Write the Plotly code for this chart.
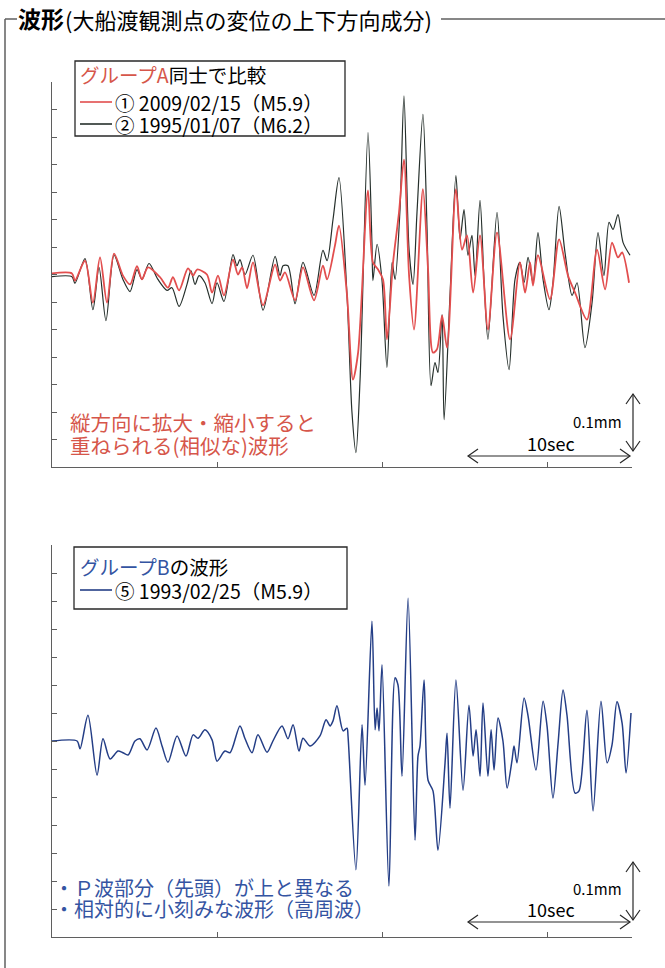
import plotly.graph_objects as go

W, H = 665, 968

# ---------------- data (time in seconds, vertical displacement in mm) ----------------
# Group A, (1) 2009/02/15 (M5.9) - red
t_eq1 = [0, 1.21, 1.39, 2.0, 2.48, 2.91, 3.33, 3.76, 4.30, 4.73, 5.15, 5.45, 5.82, 6.55, 7.03, 7.33,
         7.70, 8.24, 8.55, 8.79, 9.39, 9.70, 10.06, 10.42, 10.97, 11.27, 11.52, 11.82, 12.18, 12.79,
         13.52, 13.82, 14.12, 14.73, 15.21, 15.88, 16.42, 16.67, 17.15, 17.39, 17.88, 18.24, 18.55,
         19.15, 19.45, 19.76, 20.06, 20.30, 20.67, 21.03, 21.33, 21.64, 21.94, 22.48, 22.79, 23.09,
         23.33, 23.64, 23.94, 24.48, 24.85, 25.15, 25.52, 25.94, 26.42, 26.97, 27.76, 28.36, 28.67,
         28.97, 29.15, 29.45, 30.18, 30.73, 31.27, 31.70, 32.42, 33.03, 33.52, 33.94, 34.30, 34.55, 34.97]
a_eq1 = [0.002, 0.002, -0.011, 0.025, -0.051, 0.031, -0.051, 0.038, -0.002, -0.018, 0.015, -0.009,
         0.013, -0.005, -0.024, -0.005, -0.029, 0.011, -0.002, 0.009, 0.0, -0.033, -0.002, -0.038,
         0.027, 0.0, 0.013, -0.025, 0.022, -0.056, 0.018, -0.011, 0.004, -0.047, 0.013, -0.047, 0.016,
         -0.009, 0.053, 0.089, -0.038, -0.191, -0.142, 0.153, 0.022, 0.009, -0.009, -0.118, 0.022,
         0.113, 0.209, -0.002, -0.100, 0.155, 0.009, -0.142, -0.136, -0.075, -0.133, 0.155, 0.045,
         0.071, -0.033, 0.071, -0.100, 0.076, -0.118, 0.022, -0.033, 0.022, -0.020, 0.035, -0.045,
         0.064, -0.002, -0.033, -0.082, 0.045, -0.027, 0.058, 0.031, 0.040, -0.015]

# Group A, (2) 1995/01/07 (M6.2) - black
t_eq2 = [0, 1.21, 1.39, 2.0, 2.48, 2.85, 3.27, 3.76, 4.30, 4.73, 5.15, 5.45, 5.88, 6.42, 6.97, 7.27,
         7.70, 8.18, 8.42, 8.67, 8.91, 9.27, 9.70, 10.0, 10.42, 10.97, 11.21, 11.39, 11.70, 12.18,
         12.79, 13.52, 13.82, 14.0, 14.30, 14.73, 15.21, 15.88, 16.42, 16.67, 17.03, 17.39, 17.88,
         18.18, 18.42, 18.67, 19.15, 19.39, 19.45, 19.70, 20.0, 20.30, 20.61, 20.79, 21.09, 21.33,
         21.64, 21.88, 22.12, 22.48, 22.73, 22.97, 23.21, 23.39, 23.64, 23.76, 24.12, 24.48, 24.73,
         24.97, 25.21, 25.45, 25.64, 25.94, 26.18, 26.42, 26.97, 27.33, 27.70, 28.06, 28.36, 28.61,
         28.85, 29.15, 29.45, 29.76, 30.12, 30.36, 30.73, 31.09, 31.52, 31.82, 32.30, 32.73, 33.09,
         33.45, 33.76, 34.0, 34.30, 34.61, 35.03]
a_eq2 = [-0.004, -0.004, -0.016, 0.029, -0.064, 0.013, -0.084, 0.035, -0.009, -0.031, 0.009, -0.009,
         0.020, -0.009, -0.029, -0.024, -0.058, -0.018, 0.007, -0.018, -0.002, -0.015, -0.053, -0.015,
         -0.049, 0.036, 0.016, 0.027, 0.0, 0.035, -0.065, 0.033, -0.002, 0.016, 0.016, -0.053, 0.022,
         -0.038, 0.044, 0.025, 0.100, 0.176, -0.038, -0.251, -0.324, -0.191, 0.258, 0.058, -0.011,
         0.055, -0.011, -0.169, 0.022, -0.009, 0.118, 0.325, 0.045, -0.018, 0.113, 0.291, 0.082,
         -0.202, -0.160, -0.178, -0.073, -0.264, -0.038, 0.180, 0.064, 0.118, 0.035, 0.071, -0.002,
         0.135, -0.009, -0.118, 0.113, -0.075, -0.173, -0.009, 0.022, -0.015, 0.031, -0.015, 0.076,
         -0.009, -0.064, -0.015, 0.124, 0.040, -0.038, -0.015, -0.133, -0.051, 0.076, -0.002, 0.095,
         0.082, 0.109, 0.058, 0.035]

# Group B, (5) 1993/02/25 (M5.9) - blue
t_eq5 = [0, 1.52, 1.70, 2.18, 2.73, 3.09, 3.52, 4.0, 4.30, 4.61, 5.03, 5.33, 5.76, 6.30, 6.67, 7.03,
         7.58, 8.12, 8.55, 8.85, 9.27, 9.70, 10.0, 10.48, 10.79, 11.39, 11.70, 12.12, 12.48, 13.03,
         13.39, 13.94, 14.30, 14.61, 14.97, 15.21, 15.64, 16.24, 16.61, 16.85, 17.03, 17.27, 17.64,
         17.88, 17.94, 18.42, 18.79, 18.97, 19.39, 19.58, 19.70, 19.82, 20.0, 20.42, 20.79, 20.97,
         21.21, 21.58, 22.0, 22.18, 22.30, 22.55, 22.79, 23.09, 23.39, 23.82, 23.94, 24.12, 24.48,
         24.91, 25.27, 25.52, 25.70, 25.94, 26.12, 26.42, 26.61, 26.79, 27.03, 27.33, 27.58, 27.88,
         28.0, 28.18, 28.61, 28.85, 29.33, 29.76, 30.0, 30.36, 30.67, 30.97, 31.21, 31.70, 31.94,
         32.42, 32.79, 33.27, 33.64, 33.94, 34.24, 34.55, 34.79, 35.09]
a_eq5 = [0.0, 0.0, -0.014, 0.046, -0.061, 0.004, -0.032, -0.018, -0.021, -0.025, 0.0, 0.004, -0.016,
         0.023, -0.009, -0.038, 0.009, -0.027, 0.011, 0.005, 0.020, 0.002, -0.036, -0.018, -0.021,
         0.027, 0.004, -0.021, 0.011, -0.020, 0.0, 0.027, 0.004, 0.029, -0.018, 0.005, -0.009, 0.009,
         0.038, 0.027, 0.036, 0.063, 0.018, 0.023, 0.009, -0.230, 0.029, -0.079, 0.214, 0.020, 0.059,
         0.018, 0.136, -0.259, 0.113, 0.100, -0.063, 0.255, -0.177, -0.027, -0.009, 0.109, -0.070,
         -0.089, -0.195, -0.039, 0.014, -0.120, 0.109, -0.088, 0.064, -0.027, 0.020, -0.063, 0.068,
         -0.063, 0.020, -0.052, 0.041, 0.0, -0.084, -0.034, -0.009, -0.039, 0.077, 0.045, -0.052,
         0.071, 0.027, -0.102, -0.004, 0.091, 0.046, -0.093, -0.089, 0.055, -0.125, 0.071, -0.039,
         -0.007, 0.070, 0.032, -0.057, 0.050]

x_ticks = [10, 20, 30]
y_ticks = [round(-0.35 + 0.05 * i, 2) for i in range(15)]

RED = "rgb(226,78,78)"
BLACK = "rgb(38,48,44)"
BLUE = "rgb(36,62,134)"
RED_TXT = "rgb(214,86,74)"
BLUE_TXT = "rgb(52,84,162)"
AX = "rgb(95,95,95)"
FONT = "Noto Sans CJK JP"


def px(x):
    return x / W


def py(y):
    return 1 - y / H


fig = go.Figure()
fig.add_trace(go.Scatter(x=t_eq2, y=a_eq2, mode="lines",
                         line=dict(color=BLACK, width=1.2, shape="spline", smoothing=0.8),
                         xaxis="x", yaxis="y", hoverinfo="skip", showlegend=False))
fig.add_trace(go.Scatter(x=t_eq1, y=a_eq1, mode="lines",
                         line=dict(color=RED, width=1.8, shape="spline", smoothing=0.8),
                         xaxis="x", yaxis="y", hoverinfo="skip", showlegend=False))
fig.add_trace(go.Scatter(x=t_eq5, y=a_eq5, mode="lines",
                         line=dict(color=BLUE, width=1.5, shape="spline", smoothing=0.8),
                         xaxis="x2", yaxis="y2", hoverinfo="skip", showlegend=False))

ax_common = dict(showline=True, linecolor=AX, linewidth=1, ticks="inside", ticklen=5,
                 tickcolor=AX, tickwidth=1, showticklabels=False, showgrid=False,
                 zeroline=False, fixedrange=True)

fig.update_layout(
    width=W, height=H, margin=dict(l=0, r=0, t=0, b=0),
    paper_bgcolor="white", plot_bgcolor="white",
    font=dict(family=FONT, color="black"),
    xaxis=dict(domain=[px(52), px(632)], range=[0, 35.15], tickvals=x_ticks, anchor="y", **ax_common),
    yaxis=dict(domain=[py(467), py(82)], range=[-0.35, 0.35], tickvals=y_ticks, anchor="x", **ax_common),
    xaxis2=dict(domain=[px(52), px(632)], range=[0, 35.15], tickvals=x_ticks, anchor="y2", **ax_common),
    yaxis2=dict(domain=[py(937), py(545)], range=[-0.35, 0.35], tickvals=y_ticks, anchor="x2", **ax_common),
)

shapes = []
ann = []


def line(x0, y0, x1, y1, color="black", width=1.2):
    shapes.append(dict(type="line", xref="paper", yref="paper", x0=px(x0), y0=py(y0),
                       x1=px(x1), y1=py(y1), line=dict(color=color, width=width)))


def path(points, color="black", width=1.2):
    d = "M " + " L ".join(f"{px(a):.5f},{py(b):.5f}" for a, b in points)
    shapes.append(dict(type="path", xref="paper", yref="paper", path=d,
                       line=dict(color=color, width=width)))


def text(x, y, s, size=19, color="black", xanchor="left"):
    ann.append(dict(x=px(x), y=py(y), xref="paper", yref="paper", text=s, showarrow=False,
                    xanchor=xanchor, yanchor="middle", font=dict(family=FONT, size=size, color=color)))


# outer frame and title
line(5, 19, 5, 968, AX, 1.5)
line(5, 19, 17, 19, AX, 1.5)
line(441, 19, 665, 19, AX, 1.5)
text(16, 18, "<b>波形</b>", size=23)
text(63, 19, "(大船渡観測点の変位の上下方向成分)", size=22)

# legend A
shapes.append(dict(type="rect", xref="paper", yref="paper", x0=px(75), x1=px(345), y0=py(61), y1=py(136),
                   line=dict(color="rgb(40,40,40)", width=1.3)))
text(78, 75, f"<span style='color:{RED_TXT}'>グループA</span>同士で比較", size=19.5)
line(80, 102, 112, 102, RED, 1.6)
text(113, 102, "① 2009/02/15（M5.9）", size=19.5)
line(80, 124, 112, 124, BLACK, 1.6)
text(113, 124, "② 1995/01/07（M6.2）", size=19.5)

# legend B
shapes.append(dict(type="rect", xref="paper", yref="paper", x0=px(74), x1=px(347), y0=py(547), y1=py(609),
                   line=dict(color="rgb(40,40,40)", width=1.3)))
text(78, 566, f"<span style='color:{BLUE_TXT}'>グループB</span>の波形", size=19.5)
line(80, 590, 112, 590, BLUE, 1.6)
text(113, 590, "⑤ 1993/02/25（M5.9）", size=19.5)

# explanatory notes
text(68, 422, "縦方向に拡大・縮小すると", size=20.5, color=RED_TXT)
text(68, 445, "重ねられる(相似な)波形", size=20.5, color=RED_TXT)
text(52, 887, "・Ｐ波部分（先頭）が上と異なる", size=20, color=BLUE_TXT)
text(52, 908, "・相対的に小刻みな波形（高周波）", size=20, color=BLUE_TXT)


# scale bars
def scale(ytext_mm, y_sec, y_harrow, y_top, y_bot):
    text(624, ytext_mm, "0.1mm", size=15, xanchor="right")
    text(551, y_sec, "10sec", size=18, xanchor="center")
    line(468, y_harrow, 630, y_harrow, "rgb(40,40,40)", 1.2)
    path([(478, y_harrow - 7), (468, y_harrow), (478, y_harrow + 7)], "rgb(40,40,40)", 1.2)
    path([(620, y_harrow - 7), (630, y_harrow), (620, y_harrow + 7)], "rgb(40,40,40)", 1.2)
    line(633, y_top, 633, y_bot, "rgb(40,40,40)", 1.2)
    path([(626, y_top + 10), (633, y_top), (640, y_top + 10)], "rgb(40,40,40)", 1.2)
    path([(626, y_bot - 10), (633, y_bot), (640, y_bot - 10)], "rgb(40,40,40)", 1.2)


scale(422, 443, 456, 394, 451)
scale(888, 909, 922, 862, 920)

fig.update_layout(shapes=shapes, annotations=ann)
fig.write_html("out.html", config={"displayModeBar": False},
               post_script="document.body.style.margin='0px';document.body.style.overflow='hidden';")
